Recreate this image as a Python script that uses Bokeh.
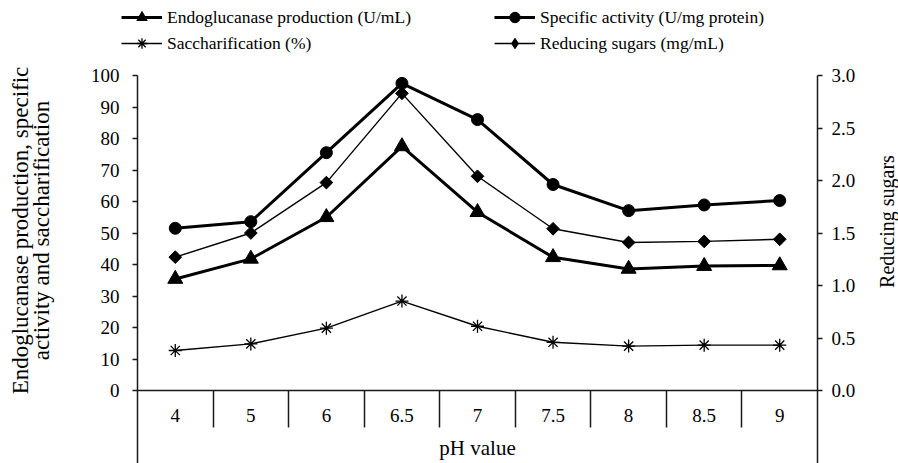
import math
from bokeh.plotting import figure
from bokeh.models import (Range1d, LinearAxis, FixedTicker, NumeralTickFormatter,
                          Legend, LegendItem, Label)
from bokeh.embed import file_html
from bokeh.resources import INLINE

# ---- data ----
ph_labels = ["4", "5", "6", "6.5", "7", "7.5", "8", "8.5", "9"]
endoglucanase = [35.4, 41.8, 55.0, 77.5, 56.6, 42.3, 38.6, 39.5, 39.7]
specific_activity = [51.5, 53.6, 75.5, 97.5, 86.0, 65.4, 57.1, 58.9, 60.3]
saccharification = [12.7, 14.8, 19.8, 28.4, 20.4, 15.3, 14.1, 14.4, 14.4]
reducing_sugars = [1.27, 1.50, 1.98, 2.83, 2.04, 1.54, 1.41, 1.42, 1.44]
left_ticks = [0, 10, 20, 30, 40, 50, 60, 70, 80, 90, 100]
right_ticks = [0.0, 0.5, 1.0, 1.5, 2.0, 2.5, 3.0]
left_max = 100
right_max = 3.0

n = len(ph_labels)
xc = [i + 0.5 for i in range(n)]
FONT = "Liberation Serif"
AX = "#1a1a1a"

# ---- layout (pixels inside the canvas) ----
W, H = 898, 463
plot_left, plot_right = 137, 817      # x = 0 and x = n
plot_top, plot_zero = 75, 390         # y = max and y = 0 (from top)
xs = (plot_right - plot_left) / n     # px per category
ys = (plot_zero - plot_top) / left_max
x_lo = -plot_left / xs
x_hi = n + (W - plot_right) / xs
y_lo = -(H - plot_zero) / ys
y_hi = left_max + plot_top / ys
r = right_max / left_max

p = figure(width=W, height=H, output_backend="svg", toolbar_location=None,
           x_range=Range1d(x_lo, x_hi), y_range=Range1d(y_lo, y_hi),
           min_border=0, x_axis_type=None, y_axis_type=None)
p.outline_line_color = None
p.background_fill_color = "white"
p.border_fill_color = "white"
p.extra_y_ranges = {"rs": Range1d(y_lo * r, y_hi * r)}

# x axis: category labels
xaxis = LinearAxis(ticker=FixedTicker(ticks=xc, minor_ticks=[]),
                   fixed_location=0, bounds=(0, n))
xaxis.major_label_overrides = {xc[i]: ph_labels[i] for i in range(n)}
xaxis.major_tick_out = 0
xaxis.major_tick_in = 0
xaxis.minor_tick_out = 0
xaxis.minor_tick_in = 0
xaxis.axis_line_width = 1.5
xaxis.axis_line_color = AX
xaxis.major_label_standoff = 18
xaxis.major_label_text_font = FONT
xaxis.major_label_text_font_size = "19px"
xaxis.major_label_text_color = "black"
p.add_layout(xaxis, "below")

# x axis: category dividers
divs = LinearAxis(ticker=FixedTicker(ticks=list(range(1, n)), minor_ticks=[]),
                  fixed_location=0, bounds=(0, n))
divs.major_label_overrides = {k: "" for k in range(1, n)}
divs.axis_line_color = None
divs.major_tick_out = 37
divs.major_tick_in = 0
divs.minor_tick_out = 0
divs.minor_tick_in = 0
divs.major_tick_line_width = 1.5
divs.major_tick_line_color = AX
p.add_layout(divs, "below")

# y axes
yl = LinearAxis(ticker=FixedTicker(ticks=left_ticks, minor_ticks=[]),
                fixed_location=0, bounds=(y_lo, left_max))
yr = LinearAxis(y_range_name="rs", ticker=FixedTicker(ticks=right_ticks, minor_ticks=[]),
                formatter=NumeralTickFormatter(format="0.0"),
                fixed_location=n, bounds=(y_lo * r, right_max))
for ax in (yl, yr):
    ax.major_tick_out = 5
    ax.major_tick_in = 0
    ax.minor_tick_out = 0
    ax.minor_tick_in = 0
    ax.axis_line_width = 1.5
    ax.axis_line_color = AX
    ax.major_tick_line_width = 1.5
    ax.major_tick_line_color = AX
    ax.major_label_text_font = FONT
    ax.major_label_text_font_size = "19px"
    ax.major_label_text_color = "black"
yl.major_label_standoff = 13
yr.major_label_standoff = 9
p.add_layout(yl, "left")
p.add_layout(yr, "right")

# axis titles
def title(text, px_x, px_y, size, angle=0.0):
    p.add_layout(Label(x=(px_x - plot_left) / xs, y=(plot_zero - px_y) / ys, text=text,
                       angle=angle, text_font=FONT, text_font_size=size,
                       text_color="black", text_align="center", text_baseline="middle"))

title("Endoglucanase production, specific", 20, 230, "23px", math.pi / 2)
title("activity and saccharification", 41, 230, "23px", math.pi / 2)
title("Reducing sugars", 886, 221, "20px", math.pi / 2)
title("pH value", (plot_left + plot_right) / 2, 447, "21px")

# series
l1 = p.line(xc, endoglucanase, line_width=3, color="black")
s1 = p.scatter(xc, endoglucanase, marker="triangle", size=15, color="black")
l2 = p.line(xc, specific_activity, line_width=3, color="black")
s2 = p.scatter(xc, specific_activity, marker="circle", size=12, color="black")
l3 = p.line(xc, saccharification, line_width=1.4, color="black")
s3 = p.scatter(xc, saccharification, marker="asterisk", size=13, color="black",
               line_width=1.3)
l4 = p.line(xc, reducing_sugars, line_width=1.4, color="black", y_range_name="rs")
s4 = p.scatter(xc, reducing_sugars, marker="square", angle=math.pi / 4, size=9,
               color="black", y_range_name="rs")
# legend key for the diamonds (the legend does not rotate markers); hidden in the plot
s4_key = p.scatter(xc, reducing_sugars, marker="diamond", size=15, color="black",
                   y_range_name="rs", visible=False)

def make_legend(items, loc):
    lg = Legend(items=items, location=loc, orientation="vertical")
    lg.label_text_font = FONT
    lg.label_text_font_size = "17.5px"
    lg.label_text_color = "black"
    lg.glyph_width = 41
    lg.glyph_height = 26
    lg.label_height = 26
    lg.label_standoff = 5
    lg.padding = 0
    lg.margin = 0
    lg.spacing = 0
    lg.border_line_color = None
    lg.background_fill_alpha = 0
    lg.inactive_fill_alpha = 0
    return lg

leg_bottom = H - 56
leg1 = make_legend([LegendItem(label="Endoglucanase production (U/mL)", renderers=[l1, s1]),
                    LegendItem(label="Saccharification (%)", renderers=[l3, s3])],
                   (121, leg_bottom))
leg2 = make_legend([LegendItem(label="Specific activity (U/mg protein)", renderers=[l2, s2]),
                    LegendItem(label="Reducing sugars (mg/mL)", renderers=[l4, s4_key])],
                   (494, leg_bottom))
p.add_layout(leg1)
p.add_layout(leg2)

open("out.html", "w").write(file_html(p, INLINE))
